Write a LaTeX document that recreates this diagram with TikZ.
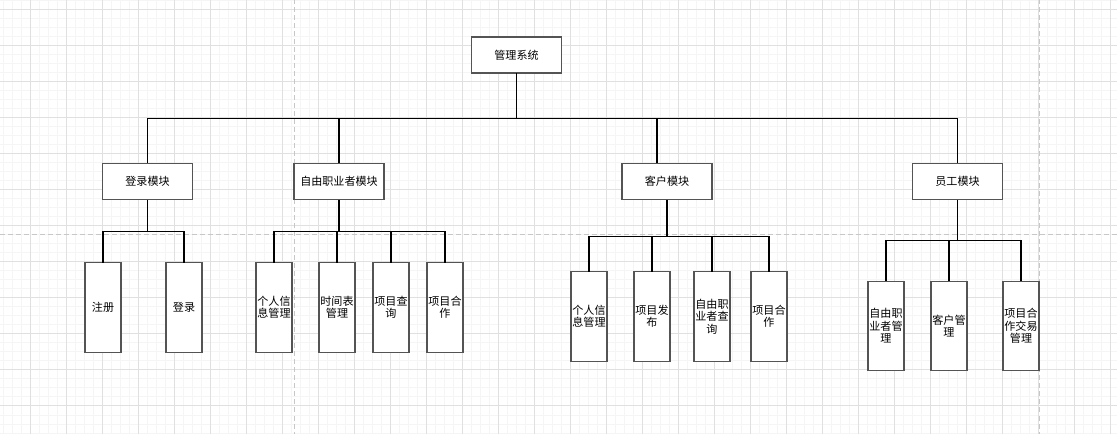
\documentclass[tikz,border=0pt]{standalone}
\usepackage{fontspec}
\setmainfont{Noto Sans CJK SC}
\usepackage{tikz}
\definecolor{gridmaj}{rgb}{0.88,0.88,0.88}
\definecolor{gridmin}{rgb}{0.96,0.96,0.96}
\definecolor{pageln}{rgb}{0.78,0.78,0.78}
\definecolor{boxln}{rgb}{0.33,0.33,0.33}
\tikzset{
  box/.style={draw=boxln,fill=white,line width=0.95pt,inner sep=0pt,align=center,
    font=\fontsize{8.3}{9.3}\selectfont,minimum width=67.5pt,minimum height=27pt},
  leaf/.style={box,minimum width=27pt,minimum height=67pt},
  link/.style={draw=black,line width=0.8pt}
}
\begin{document}
\begin{tikzpicture}[line cap=rect,line join=miter,x=0.75pt,y=-0.75pt]
      \useasboundingbox (0,0) rectangle (1117,434);
      \fill[white] (0,0) rectangle (1117,434);
      \foreach \gx in {3,12,...,1116} \draw[gridmin,line width=0.75pt] (\gx,0) -- (\gx,434);
      \foreach \gy in {1,10,...,433} \draw[gridmin,line width=0.75pt] (0,\gy) -- (1117,\gy);
      \foreach \gx in {30,66,...,1116} \draw[gridmaj,line width=0.75pt] (\gx,0) -- (\gx,434);
      \foreach \gy in {10,46,...,433} \draw[gridmaj,line width=0.75pt] (0,\gy) -- (1117,\gy);
      \draw[pageln,dashed,line width=0.75pt] (294,0) -- (294,434);
      \draw[pageln,dashed,line width=0.75pt] (1039,0) -- (1039,434);
      \draw[pageln,dashed,line width=0.75pt] (0,235) -- (1117,235);
      \node[box] (sys) at (516.5,55) {管理系统};
      \node[box] (login) at (147.5,181.5) {登录模块};
      \node[box] (free) at (339,181.5) {自由职业者模块};
      \node[box] (cust) at (667,181.5) {客户模块};
      \node[box] (emp) at (957.5,181.5) {员工模块};
      \node[leaf] (reg) at (103,307.5) {注册};
      \node[leaf] (signin) at (184,307.5) {登录};
      \node[leaf] (finfo) at (274,307.5) {个人信\\息管理};
      \node[leaf] (ftime) at (337,307.5) {时间表\\管理};
      \node[leaf] (fquery) at (391,307.5) {项目查\\询};
      \node[leaf] (fcoop) at (445,307.5) {项目合\\作};
      \node[leaf] (cinfo) at (589,316.5) {个人信\\息管理};
      \node[leaf] (cpub) at (652,316.5) {项目发\\布};
      \node[leaf] (cquery) at (712,316.5) {自由职\\业者查\\询};
      \node[leaf] (ccoop) at (769,316.5) {项目合\\作};
      \node[leaf] (efree) at (886,326) {自由职\\业者管\\理};
      \node[leaf] (ecust) at (949,326) {客户管\\理};
      \node[leaf] (edeal) at (1021,326) {项目合\\作交易\\管理};
      \draw[link] (sys.south) -- ++(0,45) -| (login.north);
      \draw[link] (sys.south) -- ++(0,45) -| (free.north);
      \draw[link] (sys.south) -- ++(0,45) -| ([xshift=-7.5pt]cust.north);
      \draw[link] (sys.south) -- ++(0,45) -| (emp.north);
      \draw[link] (login.south) -- ++(0,31) -| (reg.north);
      \draw[link] (login.south) -- ++(0,31) -| (signin.north);
      \draw[link] (free.south) -- ++(0,31) -| (finfo.north);
      \draw[link] (free.south) -- ++(0,31) -| (ftime.north);
      \draw[link] (free.south) -- ++(0,31) -| (fquery.north);
      \draw[link] (free.south) -- ++(0,31) -| (fcoop.north);
      \draw[link] (cust.south) -- ++(0,36) -| (cinfo.north);
      \draw[link] (cust.south) -- ++(0,36) -| (cpub.north);
      \draw[link] (cust.south) -- ++(0,36) -| (cquery.north);
      \draw[link] (cust.south) -- ++(0,36) -| (ccoop.north);
      \draw[link] (emp.south) -- ++(0,40) -| (efree.north);
      \draw[link] (emp.south) -- ++(0,40) -| (ecust.north);
      \draw[link] (emp.south) -- ++(0,40) -| (edeal.north);
\end{tikzpicture}
\end{document}
